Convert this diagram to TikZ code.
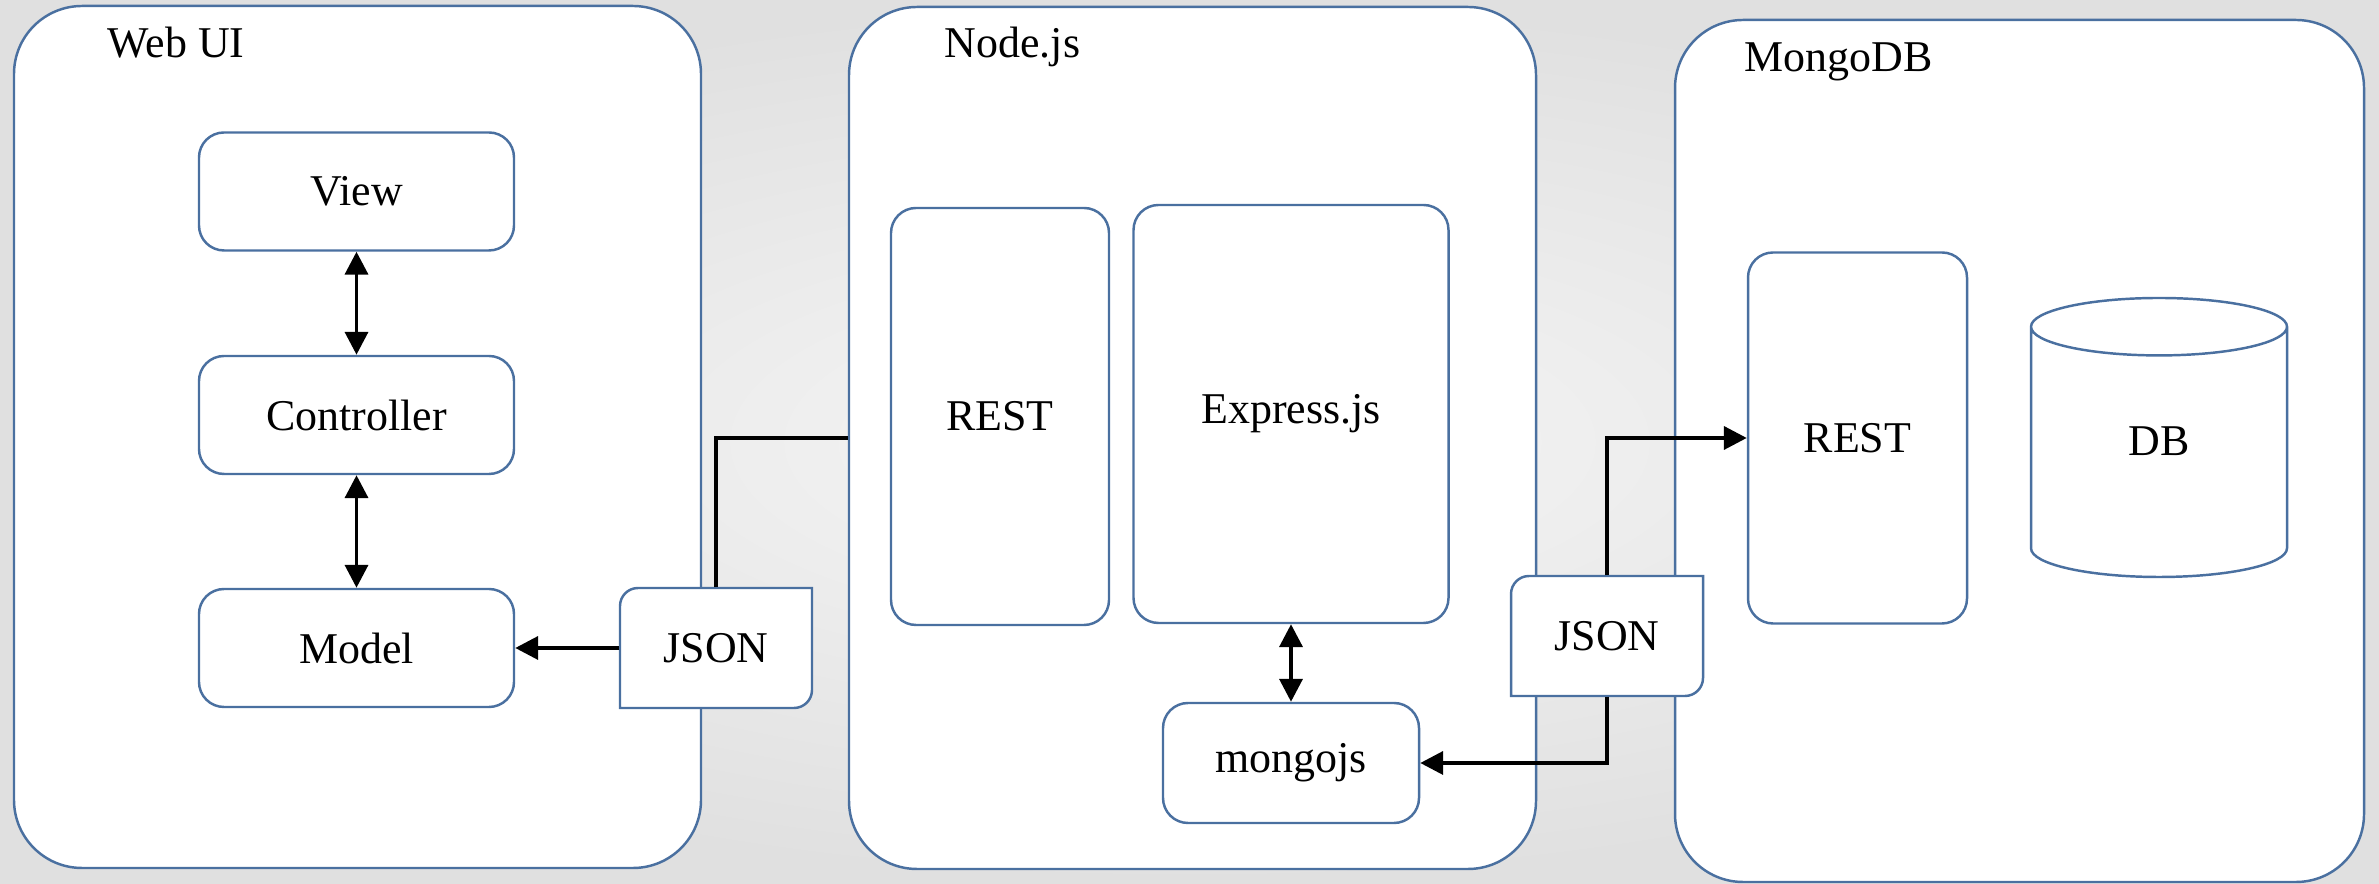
\documentclass[tikz,border=0pt]{standalone}
\usepackage{fontspec}
\setmainfont{Liberation Serif}
\usetikzlibrary{arrows.meta, shapes.geometric}
\definecolor{boxblue}{RGB}{74,112,160}
\definecolor{bgouter}{RGB}{224,224,224}
\definecolor{bginner}{RGB}{246,246,246}
\newcommand{\jsonbox}[2]{%
  \filldraw[boxline, fill=white] (#2) ++(0.96,0.6) -- ++(-1.74,0)
    arc[start angle=90, end angle=180, radius=0.18] -- ++(0,-1.02) -- ++(1.74,0)
    arc[start angle=270, end angle=360, radius=0.18] -- cycle;
  \node[minimum width=1.92cm, minimum height=1.2cm] (#1) at (#2) {JSON};}

\begin{document}
\begin{tikzpicture}[font=\fontsize{12.5}{15}\selectfont,
  boxline/.style={draw=boxblue, line width=0.7pt},
  container/.style={boxline, fill=white, rounded corners=0.68cm, minimum width=6.87cm, minimum height=8.62cm},
  part/.style={boxline, fill=white, rounded corners=0.25cm},
  title/.style={anchor=base west, inner sep=0pt},
  link/.style={line width=1.1pt},
  arr/.style={link, -{Triangle[length=6.5pt, width=6.5pt]}},
  biarr/.style={link, {Triangle[length=6.5pt, width=6.5pt]}-{Triangle[length=6.5pt, width=6.5pt]}}]
\shade[inner color=bginner, outer color=bgouter] (0,0) rectangle (23.79,8.84);
\useasboundingbox (0,0) rectangle (23.79,8.84);

\node[container] (webui) at (3.575,4.47) {};
\node[container] (nodejs) at (11.925,4.46) {};
\node[container, minimum width=6.89cm] (mongo) at (20.195,4.33) {};
\node[title] (webuititle) at (1.07,8.26) {Web UI};
\node[title] (nodejstitle) at (9.44,8.26) {Node.js};
\node[title] (mongotitle) at (17.44,8.12) {MongoDB};

\node[part, minimum width=3.15cm, minimum height=1.18cm] (view) at (3.565,6.925) {View};
\node[part, minimum width=3.15cm, minimum height=1.18cm] (controller) at (3.565,4.69) {Controller};
\node[part, minimum width=3.15cm, minimum height=1.18cm] (model) at (3.565,2.36) {Model};
\node[part, minimum width=2.18cm, minimum height=4.17cm] (rest1) at (10.00,4.675) {REST};
\node[part, minimum width=3.15cm, minimum height=4.18cm] (express) at (12.91,4.70) {Express.js};
\node[part, minimum width=2.56cm, minimum height=1.20cm] (mongojs) at (12.91,1.21) {mongojs};
\node[part, minimum width=2.19cm, minimum height=3.71cm] (rest2) at (18.575,4.46) {REST};
\node[boxline, fill=white, cylinder, shape border rotate=90, aspect=0.68, text depth=0.34cm,
  minimum width=2.56cm, minimum height=2.79cm, anchor=shape center] (db) at (21.59,4.465) {DB};

\jsonbox{json1}{7.16,2.36}
\jsonbox{json2}{16.07,2.48}

\draw[biarr] (view) -- (controller);
\draw[biarr] (controller) -- (model);
\draw[arr] (json1) -- (model);
\draw[link] (json1.north) |- (nodejs.west);
\draw[biarr] (express) -- (mongojs);
\draw[arr] (json2.north) |- (rest2.west);
\draw[arr] (json2.south) |- (mongojs.east);
\end{tikzpicture}
\end{document}
